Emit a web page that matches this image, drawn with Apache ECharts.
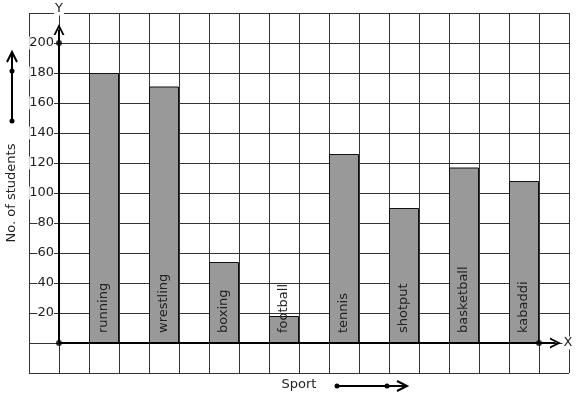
<!DOCTYPE html>
<html>
<head>
<meta charset="utf-8">
<script src="https://cdn.jsdelivr.net/npm/echarts@6/dist/echarts.min.js"></script>
<style>
  html, body { margin: 0; padding: 0; background: #fff; }
  #chart { width: 577px; height: 399px; }
</style>
</head>
<body>
<div id="chart"></div>
<script>
// data
var sports = ['running', 'wrestling', 'boxing', 'football', 'tennis', 'shotput', 'basketball', 'kabaddi']
var students = [180, 171, 54, 18, 126, 90, 117, 108]
var yTicks = [20, 40, 60, 80, 100, 120, 140, 160, 180, 200]

// axis extents (in axis units)
var xAxisEnd = 16
var yAxisEnd = 200

// graph paper has 18 columns; a bar sits in every other column from column 2
var slots = []
var slotValues = []
for (var i = 0; i < 18; i++) {
  slots.push('gap' + i)
  slotValues.push('-')
}
sports.forEach(function (name, k) {
  slots[2 + 2 * k] = name
  slotValues[2 + 2 * k] = students[k]
})

var FONT = 'DejaVu Sans'
var TXT = '#222'
var GRID = '#333'
// open chevron arrow head, tip at the top
var chevron = 'path://M0,10 L5,0 L10,10 L8.2,10 L5,3.6 L1.8,10 Z'

var myChart = echarts.init(document.getElementById('chart'), null, { renderer: 'canvas' })

var option = {
  animation: false,
  backgroundColor: '#fff',
  textStyle: { fontFamily: FONT },
  grid: { left: 29, right: 8, top: 13, bottom: 26, containLabel: false, outerBoundsMode: 'none' },
  xAxis: [
    {
      // graph paper + X axis position
      type: 'value',
      min: -1,
      max: 17,
      interval: 1,
      name: 'X',
      nameLocation: 'end',
      nameGap: -1,
      nameTextStyle: { color: TXT, fontSize: 13, fontFamily: FONT, align: 'center', verticalAlign: 'middle', backgroundColor: '#fff', padding: [0, 1] },
      axisLine: { show: true, onZero: true, lineStyle: { color: 'transparent' } },
      axisTick: { show: false },
      axisLabel: { show: false },
      splitLine: { show: true, lineStyle: { color: GRID, width: 1 } }
    },
    {
      // columns used by the bars
      type: 'category',
      data: slots,
      show: false,
      boundaryGap: true,
      axisLine: { onZero: false }
    }
  ],
  yAxis: {
    type: 'value',
    min: -20,
    max: 220,
    interval: 20,
    // y axis sits one column in from the left edge of the paper
    offset: -30,
    name: 'Y',
    nameLocation: 'end',
    nameGap: 4,
    nameTextStyle: { color: TXT, fontSize: 13, fontFamily: FONT, align: 'center', verticalAlign: 'middle', backgroundColor: '#fff', padding: [0, 1] },
    axisLine: { show: true, onZero: false, lineStyle: { color: 'transparent' } },
    axisTick: { show: false },
    axisLabel: {
      margin: 5,
      color: TXT,
      fontSize: 13,
      fontFamily: FONT,
      backgroundColor: '#fff',
      formatter: function (v) {
        return yTicks.indexOf(v) >= 0 ? String(v) : ''
      }
    },
    splitLine: { show: true, lineStyle: { color: GRID, width: 1 } }
  },
  series: [
    {
      type: 'bar',
      xAxisIndex: 1,
      data: slotValues,
      barWidth: 30,
      itemStyle: { color: '#999', borderColor: '#111', borderWidth: 1 },
      label: {
        show: true,
        position: 'insideBottom',
        distance: 10,
        rotate: 90,
        align: 'left',
        verticalAlign: 'middle',
        color: TXT,
        fontSize: 13,
        fontFamily: FONT,
        formatter: function (p) { return p.name }
      },
      z: 3
    },
    {
      // the drawn X / Y axes with their dots and arrow heads
      type: 'scatter',
      xAxisIndex: 0,
      data: [[0, 0], [xAxisEnd, 0], [0, yAxisEnd]],
      symbolSize: 6,
      itemStyle: { color: '#000' },
      silent: true,
      z: 5,
      markLine: {
        silent: true,
        animation: false,
        label: { show: false },
        lineStyle: { color: '#000', width: 2, type: 'solid' },
        data: [
          [{ coord: [0, 0], symbol: 'none' }, { coord: [16.55, 0], symbol: chevron, symbolSize: 11 }],
          [{ coord: [0, 0], symbol: 'none' }, { coord: [0, 209], symbol: chevron, symbolSize: 11 }]
        ]
      }
    }
  ],
  graphic: [
    { type: 'text', x: 12, y: 193, rotation: Math.PI / 2, style: { text: 'No. of students', font: '13px "DejaVu Sans"', fill: TXT, align: 'center', verticalAlign: 'middle' } },
    { type: 'line', shape: { x1: 12, y1: 121, x2: 12, y2: 53 }, style: { stroke: '#000', lineWidth: 2 } },
    { type: 'polyline', shape: { points: [[7, 62], [12, 52], [17, 62]] }, style: { stroke: '#000', lineWidth: 2, fill: null } },
    { type: 'circle', shape: { cx: 12, cy: 121, r: 2.5 }, style: { fill: '#000' } },
    { type: 'circle', shape: { cx: 12, cy: 71, r: 2.5 }, style: { fill: '#000' } },
    { type: 'text', x: 299, y: 385, style: { text: 'Sport', font: '13px "DejaVu Sans"', fill: TXT, align: 'center', verticalAlign: 'middle' } },
    { type: 'line', shape: { x1: 337, y1: 386, x2: 406, y2: 386 }, style: { stroke: '#000', lineWidth: 2 } },
    { type: 'polyline', shape: { points: [[397, 381], [407, 386], [397, 391]] }, style: { stroke: '#000', lineWidth: 2, fill: null } },
    { type: 'circle', shape: { cx: 337, cy: 386, r: 2.5 }, style: { fill: '#000' } },
    { type: 'circle', shape: { cx: 387, cy: 386, r: 2.5 }, style: { fill: '#000' } }
  ]
}

myChart.setOption(option)
</script>
</body>
</html>
